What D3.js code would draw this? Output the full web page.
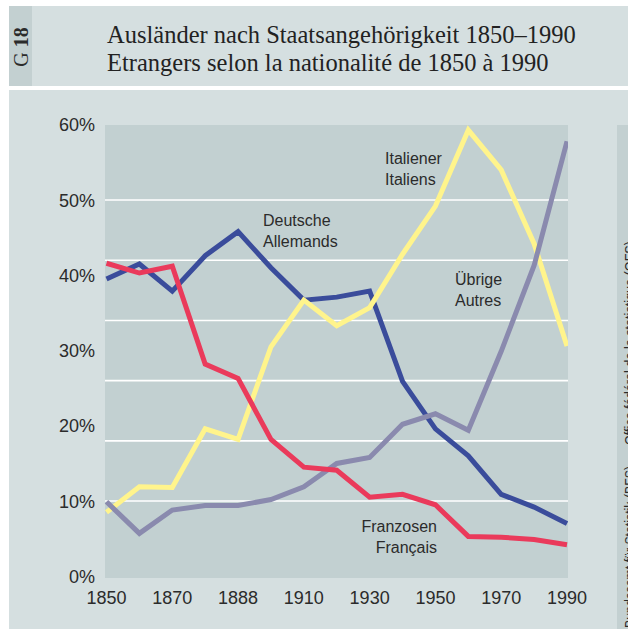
<!DOCTYPE html>
<html>
<head>
<meta charset="utf-8">
<script src="https://cdn.jsdelivr.net/npm/d3@7"></script>
<style>
  body { margin: 0; background: #fff; }
  svg { display: block; }
  .lab { font-family: "Liberation Sans", Arial, sans-serif; fill: #2b2b2b; }
</style>
</head>
<body>
<svg id="chart" width="628" height="629"></svg>
<script>
// census years, the axis only labels every second one
var years = [1850, 1860, 1870, 1880, 1888, 1900, 1910, 1920, 1930, 1941, 1950, 1960, 1970, 1980, 1990];
var tickYears = [1850, 1870, 1888, 1910, 1930, 1950, 1970, 1990];
var yTicks = [0, 10, 20, 30, 40, 50, 60];
var gridValues = [10, 18, 26, 34, 42, 50];

// share of foreigners in %
var deutsche   = [39.5, 41.5, 37.9, 42.6, 45.8, 41.0, 36.7, 37.1, 37.9, 25.9, 19.6, 16.0, 10.9, 9.2, 7.0];
var franzosen  = [41.6, 40.3, 41.2, 28.2, 26.3, 18.2, 14.5, 14.1, 10.5, 10.9, 9.5, 5.3, 5.2, 4.9, 4.2];
var italiener  = [8.5, 11.9, 11.8, 19.6, 18.2, 30.5, 36.7, 33.3, 35.7, 42.8, 49.2, 59.3, 54.0, 44.2, 30.6];
var uebrige    = [9.9, 5.7, 8.8, 9.4, 9.4, 10.2, 11.9, 15.0, 15.8, 20.2, 21.6, 19.4, 29.9, 41.3, 57.8];

var seriesLabels = [["Deutsche", "Allemands"], ["Italiener", "Italiens"], ["Übrige", "Autres"], ["Franzosen", "Français"]];

var svg = d3.select("#chart");

// header
svg.append("rect").attr("x", 9).attr("y", 6).attr("width", 619).attr("height", 80).attr("fill", "#d5dfe0");
svg.append("rect").attr("x", 9).attr("y", 6).attr("width", 23).attr("height", 80).attr("fill", "#c3d0d1");

var g18 = svg.append("text")
    .attr("transform", "translate(28,47) rotate(-90)")
    .attr("text-anchor", "middle")
    .style("font-family", "'Liberation Serif', serif")
    .style("font-size", "20px")
    .attr("fill", "#2b2b2b");
g18.append("tspan").text("G ");
g18.append("tspan").attr("font-weight", "bold").text("18");

svg.append("text").attr("x", 107).attr("y", 43)
    .style("font-family", "'Liberation Serif', serif").style("font-size", "24.5px").attr("fill", "#222")
    .text("Ausländer nach Staatsangehörigkeit 1850–1990");
svg.append("text").attr("x", 107).attr("y", 71)
    .style("font-family", "'Liberation Serif', serif").style("font-size", "24.5px").attr("fill", "#222")
    .text("Etrangers selon la nationalité de 1850 à 1990");

// main panel
svg.append("rect").attr("x", 9).attr("y", 90).attr("width", 619).attr("height", 539).attr("fill", "#d5dfe0");
svg.append("rect").attr("x", 617).attr("y", 125).attr("width", 11).attr("height", 504).attr("fill", "#c3d0d1");

// source, cut off by the right edge like in the original
svg.append("text").attr("class", "lab")
    .attr("transform", "translate(635,628) rotate(-90)")
    .style("font-size", "14px")
    .attr("textLength", 162).attr("lengthAdjust", "spacingAndGlyphs")
    .text("Bundesamt für Statistik (BFS)");
svg.append("text").attr("class", "lab")
    .attr("transform", "translate(635,445) rotate(-90)")
    .style("font-size", "14px")
    .attr("textLength", 204).attr("lengthAdjust", "spacingAndGlyphs")
    .text("Office fédéral de la statistique (OFS)");

var x = d3.scalePoint().domain(years).range([106.5, 567]);
var y = d3.scaleLinear().domain([0, 60]).range([576.3, 124.8]);

svg.append("rect").attr("x", 105).attr("y", 125).attr("width", 463).attr("height", 453).attr("fill", "#c2d0d1");

svg.append("g").selectAll("line")
    .data(gridValues)
    .enter().append("line")
    .attr("x1", 105).attr("x2", 568)
    .attr("y1", function(d) { return y(d); })
    .attr("y2", function(d) { return y(d); })
    .attr("stroke", "#fff").attr("stroke-width", 1.6);

// y axis labels
svg.append("g").selectAll("text")
    .data(yTicks)
    .enter().append("text")
    .attr("class", "lab")
    .attr("x", 95)
    .attr("y", function(d) { return y(d); })
    .attr("dy", "0.36em")
    .attr("text-anchor", "end")
    .style("font-size", "18px")
    .text(function(d) { return d + "%"; });

// x axis labels
svg.append("g").selectAll("text")
    .data(tickYears)
    .enter().append("text")
    .attr("class", "lab")
    .attr("x", function(d) { return x(d); })
    .attr("y", 604)
    .attr("text-anchor", "middle")
    .style("font-size", "18px")
    .text(function(d) { return d; });

var line = d3.line()
    .x(function(d, i) { return x(years[i]); })
    .y(function(d) { return y(d); });

var series = [
  { values: deutsche, color: "#3a4c9b" },
  { values: italiener, color: "#fff48c" },
  { values: uebrige, color: "#8a8aae" },
  { values: franzosen, color: "#ea3a5b" }
];

svg.append("defs").append("clipPath").attr("id", "plotclip")
  .append("rect").attr("x", 90).attr("y", 110).attr("width", 478).attr("height", 480);

svg.append("g").attr("clip-path", "url(#plotclip)").selectAll("path")
    .data(series)
    .enter().append("path")
    .attr("d", function(d) { return line(d.values); })
    .attr("fill", "none")
    .attr("stroke", function(d) { return d.color; })
    .attr("stroke-width", 5)
    .attr("stroke-linejoin", "miter");

// series labels
var labelPos = [
  { x: 263, y: 226, anchor: "start" },
  { x: 385, y: 164, anchor: "start" },
  { x: 455, y: 285, anchor: "start" },
  { x: 437, y: 532, anchor: "end" }
];

svg.append("g").selectAll("text")
    .data(seriesLabels)
    .enter().append("text")
    .attr("class", "lab")
    .attr("x", function(d, i) { return labelPos[i].x; })
    .attr("y", function(d, i) { return labelPos[i].y; })
    .attr("text-anchor", function(d, i) { return labelPos[i].anchor; })
    .style("font-size", "16px")
    .each(function(d, i) {
      var t = d3.select(this);
      t.append("tspan").attr("x", labelPos[i].x).text(d[0]);
      t.append("tspan").attr("x", labelPos[i].x).attr("dy", 21).text(d[1]);
    });
</script>
</body>
</html>
